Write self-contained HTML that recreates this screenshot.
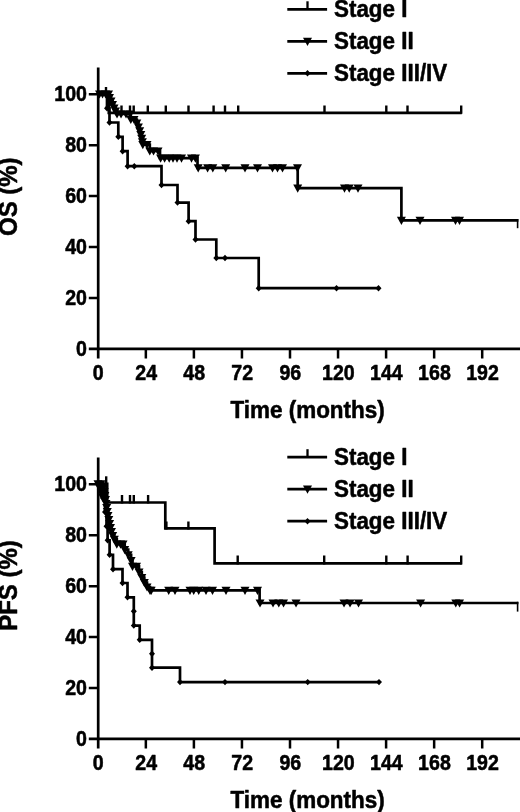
<!DOCTYPE html>
<html lang="en">
<head>
<meta charset="utf-8">
<title>Survival by stage</title>
<style>
html,body{margin:0;padding:0;background:#fff;}
body{width:520px;height:812px;overflow:hidden;font-family:"Liberation Sans",Arial,sans-serif;}
svg{display:block;}
</style>
</head>
<body>
<svg width="520" height="812" viewBox="0 0 520 812" font-family="'Liberation Sans', Arial, sans-serif" font-weight="bold" fill="#000">
<style>text{stroke:#000;stroke-width:0.5px;stroke-linejoin:round;}</style>
<g stroke="#000" stroke-width="2.7" fill="none" stroke-linecap="butt">
<path d="M98.2 67.5V358.5"/>
<path d="M88.8 348.9H520"/>
</g>
<g stroke="#000" stroke-width="2.5" fill="none">
<path d="M88.8 94.2H98M88.8 145.14H98M88.8 196.08H98M88.8 247.02H98M88.8 297.96H98M145.85 348.9V358.5M193.9 348.9V358.5M241.95 348.9V358.5M290 348.9V358.5M338.05 348.9V358.5M386.1 348.9V358.5M434.15 348.9V358.5M482.2 348.9V358.5"/>
</g>
<g font-size="19.6" text-anchor="end">
<text transform="translate(87 101.1) scale(1 1.085)">100</text>
<text transform="translate(87 152.04) scale(1 1.085)">80</text>
<text transform="translate(87 202.98) scale(1 1.085)">60</text>
<text transform="translate(87 253.92) scale(1 1.085)">40</text>
<text transform="translate(87 304.86) scale(1 1.085)">20</text>
<text transform="translate(87 355.8) scale(1 1.085)">0</text>
</g>
<g font-size="19.6" text-anchor="middle">
<text transform="translate(98.1 380.2) scale(1 1.085)">0</text>
<text transform="translate(146.15 380.2) scale(1 1.085)">24</text>
<text transform="translate(194.2 380.2) scale(1 1.085)">48</text>
<text transform="translate(242.25 380.2) scale(1 1.085)">72</text>
<text transform="translate(290.3 380.2) scale(1 1.085)">96</text>
<text transform="translate(338.35 380.2) scale(1 1.085)">120</text>
<text transform="translate(386.4 380.2) scale(1 1.085)">144</text>
<text transform="translate(434.45 380.2) scale(1 1.085)">168</text>
<text transform="translate(482.5 380.2) scale(1 1.085)">192</text>
</g>
<text font-size="22.45" transform="translate(230.5 417.5) scale(1 1.06)">Time (months)</text>
<text font-size="24" text-anchor="middle" transform="translate(17.3 196.7) rotate(-90) scale(1 1.06)">OS (%)</text>
<path d="M287.3 9.3H327.1" stroke="#000" stroke-width="2.7" fill="none"/>
<path d="M307.5 9.3V1.3" stroke="#000" stroke-width="2.3" fill="none"/>
<text font-size="22.4" transform="translate(334 16.8) scale(1 1.06)">Stage I</text>
<path d="M287.3 41.3H327.1" stroke="#000" stroke-width="2.7" fill="none"/>
<path d="M303 37.7H312L307.5 45.9Z" fill="#000"/>
<text font-size="22.4" transform="translate(334 48.8) scale(1 1.06)">Stage II</text>
<path d="M287.3 73.3H327.1" stroke="#000" stroke-width="2.7" fill="none"/>
<path d="M304.5 73.3L307.5 70.1L310.5 73.3L307.5 76.5Z" fill="#000"/>
<text font-size="22.4" transform="translate(334 80.8) scale(1 1.06)">Stage III/IV</text>
<path d="M98 94H108.8V112.8H461.8V112.8" stroke="#000" stroke-width="2.7" fill="none" stroke-linejoin="miter"/>
<path d="M106 94V87" stroke="#000" stroke-width="2.4" fill="none"/>
<path d="M121.5 113.8V105.5M130 113.8V105.5M133.7 113.8V105.5M147.8 113.8V105.5M165.8 113.8V105.5M188.5 113.8V105.5M213.6 113.8V105.5M225 113.8V105.5M238.2 113.8V105.5M324.5 113.8V105.5M386.3 113.8V105.5M407.5 113.8V105.5M461.2 113.8V105.5" stroke="#000" stroke-width="2.4" fill="none"/>
<path d="M98 94H109.5V97.5H111V101H112.5V104.5H114V108H115.5V111H117V114H130.8V119.5H136.8V123.2H138.4V127H139.7V130.8H140.8V134.6H141.7V138.4H142.4V141.8H142.8V144.6H149.8V151H160V158.2H197.5V167.8H297.7V188.1H401.4V220.4H518.4V220.4" stroke="#000" stroke-width="2.7" fill="none" stroke-linejoin="miter"/>
<path d="M517.6 219V228.2" stroke="#000" stroke-width="1.6" fill="none"/>
<path d="M95 90.4H104L99.5 98.6Z" fill="#000"/>
<path d="M98 90.4H107L102.5 98.6Z" fill="#000"/>
<path d="M101 90.4H110L105.5 98.6Z" fill="#000"/>
<path d="M104 90.4H113L108.5 98.6Z" fill="#000"/>
<path d="M105 93.9H114L109.5 102.1Z" fill="#000"/>
<path d="M106.5 97.4H115.5L111 105.6Z" fill="#000"/>
<path d="M108 100.9H117L112.5 109.1Z" fill="#000"/>
<path d="M109.5 104.4H118.5L114 112.6Z" fill="#000"/>
<path d="M111 107.4H120L115.5 115.6Z" fill="#000"/>
<path d="M112.5 110.4H121.5L117 118.6Z" fill="#000"/>
<path d="M126.3 115.9H135.3L130.8 124.1Z" fill="#000"/>
<path d="M132.3 119.6H141.3L136.8 127.8Z" fill="#000"/>
<path d="M133.9 123.4H142.9L138.4 131.6Z" fill="#000"/>
<path d="M135.2 127.2H144.2L139.7 135.4Z" fill="#000"/>
<path d="M136.3 131H145.3L140.8 139.2Z" fill="#000"/>
<path d="M137.2 134.8H146.2L141.7 143Z" fill="#000"/>
<path d="M137.9 138.2H146.9L142.4 146.4Z" fill="#000"/>
<path d="M138.3 141H147.3L142.8 149.2Z" fill="#000"/>
<path d="M116.5 110.4H125.5L121 118.6Z" fill="#000"/>
<path d="M121.5 110.4H130.5L126 118.6Z" fill="#000"/>
<path d="M125.5 110.4H134.5L130 118.6Z" fill="#000"/>
<path d="M129.5 115.9H138.5L134 124.1Z" fill="#000"/>
<path d="M142.5 141H151.5L147 149.2Z" fill="#000"/>
<path d="M145.3 147.4H154.3L149.8 155.6Z" fill="#000"/>
<path d="M149 147.4H158L153.5 155.6Z" fill="#000"/>
<path d="M153.5 147.4H162.5L158 155.6Z" fill="#000"/>
<path d="M156.1 154.6H165.1L160.6 162.8Z" fill="#000"/>
<path d="M160.1 154.6H169.1L164.6 162.8Z" fill="#000"/>
<path d="M164.7 154.6H173.7L169.2 162.8Z" fill="#000"/>
<path d="M168.5 154.6H177.5L173 162.8Z" fill="#000"/>
<path d="M172.5 154.6H181.5L177 162.8Z" fill="#000"/>
<path d="M177 154.6H186L181.5 162.8Z" fill="#000"/>
<path d="M187 154.6H196L191.5 162.8Z" fill="#000"/>
<path d="M190.9 154.6H199.9L195.4 162.8Z" fill="#000"/>
<path d="M193.7 164.2H202.7L198.2 172.4Z" fill="#000"/>
<path d="M203.1 164.2H212.1L207.6 172.4Z" fill="#000"/>
<path d="M208.3 164.2H217.3L212.8 172.4Z" fill="#000"/>
<path d="M221.2 164.2H230.2L225.7 172.4Z" fill="#000"/>
<path d="M240.5 164.2H249.5L245 172.4Z" fill="#000"/>
<path d="M253 164.2H262L257.5 172.4Z" fill="#000"/>
<path d="M268 164.2H277L272.5 172.4Z" fill="#000"/>
<path d="M273 164.2H282L277.5 172.4Z" fill="#000"/>
<path d="M278 164.2H287L282.5 172.4Z" fill="#000"/>
<path d="M293 164.2H302L297.5 172.4Z" fill="#000"/>
<path d="M293.2 184.5H302.2L297.7 192.7Z" fill="#000"/>
<path d="M340 184.5H349L344.5 192.7Z" fill="#000"/>
<path d="M344.7 184.5H353.7L349.2 192.7Z" fill="#000"/>
<path d="M353.5 184.5H362.5L358 192.7Z" fill="#000"/>
<path d="M396.9 216.8H405.9L401.4 225Z" fill="#000"/>
<path d="M415.5 216.8H424.5L420 225Z" fill="#000"/>
<path d="M451 216.8H460L455.5 225Z" fill="#000"/>
<path d="M455 216.8H464L459.5 225Z" fill="#000"/>
<path d="M98 94H107V108.2H109.5V122.5H118.3V136.8H122.6V151.2H127.6V166.2H161.5V185H177.5V202.6H188.6V221.2H195.5V239.5H216.3V258H258.7V288.2H378.5V288.2" stroke="#000" stroke-width="2.7" fill="none" stroke-linejoin="miter"/>
<path d="M104 108.2L107 105L110 108.2L107 111.4Z" fill="#000"/>
<path d="M106.5 122.5L109.5 119.3L112.5 122.5L109.5 125.7Z" fill="#000"/>
<path d="M115.3 136.8L118.3 133.6L121.3 136.8L118.3 140Z" fill="#000"/>
<path d="M119.6 151.2L122.6 148L125.6 151.2L122.6 154.4Z" fill="#000"/>
<path d="M124.6 166.2L127.6 163L130.6 166.2L127.6 169.4Z" fill="#000"/>
<path d="M158.5 185L161.5 181.8L164.5 185L161.5 188.2Z" fill="#000"/>
<path d="M174.5 202.6L177.5 199.4L180.5 202.6L177.5 205.8Z" fill="#000"/>
<path d="M185.6 221.2L188.6 218L191.6 221.2L188.6 224.4Z" fill="#000"/>
<path d="M192.5 239.5L195.5 236.3L198.5 239.5L195.5 242.7Z" fill="#000"/>
<path d="M213.3 258L216.3 254.8L219.3 258L216.3 261.2Z" fill="#000"/>
<path d="M255.7 288.2L258.7 285L261.7 288.2L258.7 291.4Z" fill="#000"/>
<path d="M131.3 166.2L134.3 163L137.3 166.2L134.3 169.4Z" fill="#000"/>
<path d="M222 258L225 254.8L228 258L225 261.2Z" fill="#000"/>
<path d="M333.5 288.2L336.5 285L339.5 288.2L336.5 291.4Z" fill="#000"/>
<path d="M375.5 288.2L378.5 285L381.5 288.2L378.5 291.4Z" fill="#000"/>
<g stroke="#000" stroke-width="2.7" fill="none" stroke-linecap="butt">
<path d="M98.2 457.55V748.55"/>
<path d="M88.8 738.95H520"/>
</g>
<g stroke="#000" stroke-width="2.5" fill="none">
<path d="M88.8 484.25H98M88.8 535.19H98M88.8 586.13H98M88.8 637.07H98M88.8 688.01H98M145.85 738.95V748.55M193.9 738.95V748.55M241.95 738.95V748.55M290 738.95V748.55M338.05 738.95V748.55M386.1 738.95V748.55M434.15 738.95V748.55M482.2 738.95V748.55"/>
</g>
<g font-size="19.6" text-anchor="end">
<text transform="translate(87 491.15) scale(1 1.085)">100</text>
<text transform="translate(87 542.09) scale(1 1.085)">80</text>
<text transform="translate(87 593.03) scale(1 1.085)">60</text>
<text transform="translate(87 643.97) scale(1 1.085)">40</text>
<text transform="translate(87 694.91) scale(1 1.085)">20</text>
<text transform="translate(87 745.85) scale(1 1.085)">0</text>
</g>
<g font-size="19.6" text-anchor="middle">
<text transform="translate(98.1 770.25) scale(1 1.085)">0</text>
<text transform="translate(146.15 770.25) scale(1 1.085)">24</text>
<text transform="translate(194.2 770.25) scale(1 1.085)">48</text>
<text transform="translate(242.25 770.25) scale(1 1.085)">72</text>
<text transform="translate(290.3 770.25) scale(1 1.085)">96</text>
<text transform="translate(338.35 770.25) scale(1 1.085)">120</text>
<text transform="translate(386.4 770.25) scale(1 1.085)">144</text>
<text transform="translate(434.45 770.25) scale(1 1.085)">168</text>
<text transform="translate(482.5 770.25) scale(1 1.085)">192</text>
</g>
<text font-size="22.45" transform="translate(230.5 807.55) scale(1 1.06)">Time (months)</text>
<text font-size="24" text-anchor="middle" transform="translate(17.3 585.5) rotate(-90) scale(1 1.06)">PFS (%)</text>
<path d="M287.3 457.2H327.1" stroke="#000" stroke-width="2.7" fill="none"/>
<path d="M307.5 457.2V449.2" stroke="#000" stroke-width="2.3" fill="none"/>
<text font-size="22.4" transform="translate(334 464.7) scale(1 1.06)">Stage I</text>
<path d="M287.3 489.2H327.1" stroke="#000" stroke-width="2.7" fill="none"/>
<path d="M303 485.6H312L307.5 493.8Z" fill="#000"/>
<text font-size="22.4" transform="translate(334 496.7) scale(1 1.06)">Stage II</text>
<path d="M287.3 521.2H327.1" stroke="#000" stroke-width="2.7" fill="none"/>
<path d="M304.5 521.2L307.5 518L310.5 521.2L307.5 524.4Z" fill="#000"/>
<text font-size="22.4" transform="translate(334 528.7) scale(1 1.06)">Stage III/IV</text>
<path d="M98 483.8H107.2V502.5H165.3V528.4H214.6V563.4H461.8V563.4" stroke="#000" stroke-width="2.7" fill="none" stroke-linejoin="miter"/>
<path d="M106.2 483.8V476.3" stroke="#000" stroke-width="2.4" fill="none"/>
<path d="M122 503.5V494.9M130 503.5V494.9M133.8 503.5V494.9M148.1 503.5V494.9" stroke="#000" stroke-width="2.4" fill="none"/>
<path d="M166.4 529.4V521.4M188.4 529.4V521.4" stroke="#000" stroke-width="2.4" fill="none"/>
<path d="M237.7 564.4V555.6M324.2 564.4V555.6M386.3 564.4V555.6M407.6 564.4V555.6M461.2 564.4V555.6" stroke="#000" stroke-width="2.4" fill="none"/>
<path d="M98 483.8H103.5V487.5H104.2V491.5H104.9V495.5H105.5V499.5H106V503.5H106.7V507.5H107.3V511.5H108V515.5H108.8V519.5H109.6V523.5H110.5V527.5H111.5V531.5H112.7V535.5H114.3V539.3H116.8V544.2H124.7V549.6H128.2V554.9H131.1V560.6H132.5V566.3H139V572H141.8V577.5H144.3V582.5H147V587H150V590.4H259.6V603H518.4V603" stroke="#000" stroke-width="2.7" fill="none" stroke-linejoin="miter"/>
<path d="M517.6 601.8V611.6" stroke="#000" stroke-width="1.6" fill="none"/>
<path d="M99 483.9H108L103.5 492.1Z" fill="#000"/>
<path d="M99.7 487.9H108.7L104.2 496.1Z" fill="#000"/>
<path d="M100.4 491.9H109.4L104.9 500.1Z" fill="#000"/>
<path d="M101 495.9H110L105.5 504.1Z" fill="#000"/>
<path d="M101.5 499.9H110.5L106 508.1Z" fill="#000"/>
<path d="M102.2 503.9H111.2L106.7 512.1Z" fill="#000"/>
<path d="M102.8 507.9H111.8L107.3 516.1Z" fill="#000"/>
<path d="M103.5 511.9H112.5L108 520.1Z" fill="#000"/>
<path d="M104.3 515.9H113.3L108.8 524.1Z" fill="#000"/>
<path d="M105.1 519.9H114.1L109.6 528.1Z" fill="#000"/>
<path d="M106 523.9H115L110.5 532.1Z" fill="#000"/>
<path d="M107 527.9H116L111.5 536.1Z" fill="#000"/>
<path d="M108.2 531.9H117.2L112.7 540.1Z" fill="#000"/>
<path d="M109.8 535.7H118.8L114.3 543.9Z" fill="#000"/>
<path d="M112.3 540.6H121.3L116.8 548.8Z" fill="#000"/>
<path d="M120.2 546H129.2L124.7 554.2Z" fill="#000"/>
<path d="M123.7 551.3H132.7L128.2 559.5Z" fill="#000"/>
<path d="M126.6 557H135.6L131.1 565.2Z" fill="#000"/>
<path d="M128 562.7H137L132.5 570.9Z" fill="#000"/>
<path d="M134.5 568.4H143.5L139 576.6Z" fill="#000"/>
<path d="M137.3 573.9H146.3L141.8 582.1Z" fill="#000"/>
<path d="M139.8 578.9H148.8L144.3 587.1Z" fill="#000"/>
<path d="M142.5 583.4H151.5L147 591.6Z" fill="#000"/>
<path d="M145.5 586.8H154.5L150 595Z" fill="#000"/>
<path d="M116 540.6H125L120.5 548.8Z" fill="#000"/>
<path d="M118.5 540.6H127.5L123 548.8Z" fill="#000"/>
<path d="M132 562.7H141L136.5 570.9Z" fill="#000"/>
<path d="M93.5 480.2H102.5L98 488.4Z" fill="#000"/>
<path d="M96.5 480.2H105.5L101 488.4Z" fill="#000"/>
<path d="M95.5 484.9H104.5L100 493.1Z" fill="#000"/>
<path d="M96.8 489.4H105.8L101.3 497.6Z" fill="#000"/>
<path d="M98.3 493.9H107.3L102.8 502.1Z" fill="#000"/>
<path d="M146.7 586.8H155.7L151.2 595Z" fill="#000"/>
<path d="M164.2 586.8H173.2L168.7 595Z" fill="#000"/>
<path d="M170.5 586.8H179.5L175 595Z" fill="#000"/>
<path d="M185.5 586.8H194.5L190 595Z" fill="#000"/>
<path d="M189.2 586.8H198.2L193.7 595Z" fill="#000"/>
<path d="M194.2 586.8H203.2L198.7 595Z" fill="#000"/>
<path d="M201.5 586.8H210.5L206 595Z" fill="#000"/>
<path d="M208 586.8H217L212.5 595Z" fill="#000"/>
<path d="M221.5 586.8H230.5L226 595Z" fill="#000"/>
<path d="M240.5 586.8H249.5L245 595Z" fill="#000"/>
<path d="M253 586.8H262L257.5 595Z" fill="#000"/>
<path d="M255.5 599.4H264.5L260 607.6Z" fill="#000"/>
<path d="M268.5 599.4H277.5L273 607.6Z" fill="#000"/>
<path d="M274.3 599.4H283.3L278.8 607.6Z" fill="#000"/>
<path d="M279 599.4H288L283.5 607.6Z" fill="#000"/>
<path d="M291.5 599.4H300.5L296 607.6Z" fill="#000"/>
<path d="M339.5 599.4H348.5L344 607.6Z" fill="#000"/>
<path d="M345.5 599.4H354.5L350 607.6Z" fill="#000"/>
<path d="M354 599.4H363L358.5 607.6Z" fill="#000"/>
<path d="M416.1 599.4H425.1L420.6 607.6Z" fill="#000"/>
<path d="M451.3 599.4H460.3L455.8 607.6Z" fill="#000"/>
<path d="M455 599.4H464L459.5 607.6Z" fill="#000"/>
<path d="M98 483.8H103V498H105V512H106.5V526.2H107.6V540.3H109.6V554.8H113V569.2H122.5V583H127.5V597.3H133.8V611.3H133.8V625.6H139.7V639.8H152V653.8H152V667.7H180V682.1H379V682.1" stroke="#000" stroke-width="2.7" fill="none" stroke-linejoin="miter"/>
<path d="M100 498L103 494.8L106 498L103 501.2Z" fill="#000"/>
<path d="M102 512L105 508.8L108 512L105 515.2Z" fill="#000"/>
<path d="M103.5 526.2L106.5 523L109.5 526.2L106.5 529.4Z" fill="#000"/>
<path d="M104.6 540.3L107.6 537.1L110.6 540.3L107.6 543.5Z" fill="#000"/>
<path d="M106.6 554.8L109.6 551.6L112.6 554.8L109.6 558Z" fill="#000"/>
<path d="M110 569.2L113 566L116 569.2L113 572.4Z" fill="#000"/>
<path d="M119.5 583L122.5 579.8L125.5 583L122.5 586.2Z" fill="#000"/>
<path d="M124.5 597.3L127.5 594.1L130.5 597.3L127.5 600.5Z" fill="#000"/>
<path d="M130.8 611.3L133.8 608.1L136.8 611.3L133.8 614.5Z" fill="#000"/>
<path d="M130.8 625.6L133.8 622.4L136.8 625.6L133.8 628.8Z" fill="#000"/>
<path d="M136.7 639.8L139.7 636.6L142.7 639.8L139.7 643Z" fill="#000"/>
<path d="M149 653.8L152 650.6L155 653.8L152 657Z" fill="#000"/>
<path d="M149 667.7L152 664.5L155 667.7L152 670.9Z" fill="#000"/>
<path d="M177 682.1L180 678.9L183 682.1L180 685.3Z" fill="#000"/>
<path d="M222 682.1L225 678.9L228 682.1L225 685.3Z" fill="#000"/>
<path d="M304.7 682.1L307.7 678.9L310.7 682.1L307.7 685.3Z" fill="#000"/>
<path d="M376 682.1L379 678.9L382 682.1L379 685.3Z" fill="#000"/>
</svg>
</body>
</html>
